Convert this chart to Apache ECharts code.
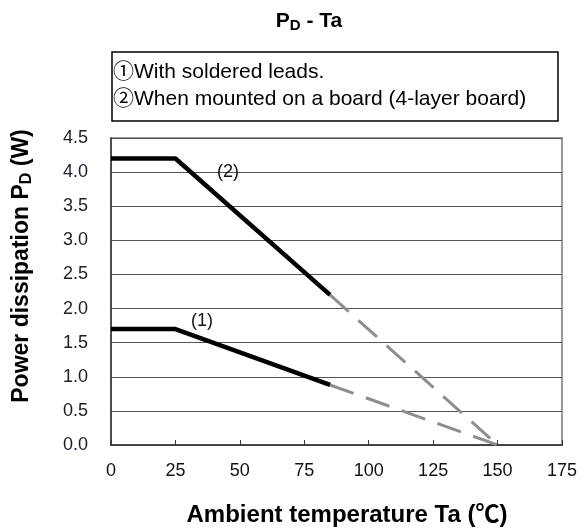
<!DOCTYPE html>
<html>
<head>
<meta charset="utf-8">
<script src="https://cdn.jsdelivr.net/npm/echarts@6/dist/echarts.min.js"></script>
<style>
html,body{margin:0;padding:0;background:#fff;}
#chart{width:580px;height:531px;}
</style>
</head>
<body>
<div id="chart"></div>
<script>
const tempSolid = [0, 25, 85];
const pdSolid1 = [1.7, 1.7, 0.88];
const pdSolid2 = [4.2, 4.2, 2.2];
const tempDash = [85, 150];
const pdDash1 = [0.88, 0];
const pdDash2 = [2.2, 0];
const curveNames = ['(1)', '(2)'];
const legendLines = ['①With soldered leads.', '②When mounted on a board (4-layer board)'];

const FONT = '"Liberation Sans", Arial, "Noto Sans CJK JP", sans-serif';
const zip = (xs, ys) => xs.map((x, i) => [x, ys[i]]);

const chart = echarts.init(document.getElementById('chart'), null, {renderer: 'canvas'});
const solidStyle = {color: '#000', width: 4.5, cap: 'butt'};
const dashStyle = {color: '#8e8e8e', width: 3, type: [25, 13]};
const labelStyle = {show: true, position: 'inside', color: '#111', fontSize: 18, fontFamily: FONT};
const curveLabel = (name, coord) => ({
  symbol: 'circle', symbolSize: 1, itemStyle: {color: 'rgba(0,0,0,0)'},
  label: Object.assign({formatter: name}, labelStyle),
  data: [{coord: coord, label: Object.assign({formatter: name}, labelStyle)}]
});

chart.setOption({
  animation: false,
  backgroundColor: '#fff',
  grid: {left: 111, right: 18, top: 138, bottom: 86, show: true, borderColor: '#999', borderWidth: 2},
  xAxis: {
    type: 'value', min: 0, max: 175, interval: 25,
    axisLine: {show: true, lineStyle: {color: '#333', width: 1.5}},
    axisTick: {show: true, inside: true, length: 5, lineStyle: {color: '#333'}},
    axisLabel: {color: '#111', fontSize: 18, fontFamily: FONT, margin: 17},
    splitLine: {show: false}
  },
  yAxis: {
    type: 'value', min: 0, max: 4.5, interval: 0.5,
    axisLine: {show: true, lineStyle: {color: '#333', width: 1.5}},
    axisTick: {show: false},
    axisLabel: {color: '#1c1c2c', fontSize: 18, fontFamily: FONT, margin: 23, formatter: v => v.toFixed(1)},
    splitLine: {show: true, lineStyle: {color: '#555', width: 1}}
  },
  series: [
    {type: 'line', data: zip(tempDash, pdDash1), symbol: 'none', lineStyle: dashStyle, z: 3},
    {type: 'line', data: zip(tempDash, pdDash2), symbol: 'none', lineStyle: dashStyle, z: 3},
    {type: 'line', data: zip(tempSolid, pdSolid1), symbol: 'none', lineStyle: solidStyle, z: 4,
      markPoint: curveLabel(curveNames[0], [35.3, 1.82])},
    {type: 'line', data: zip(tempSolid, pdSolid2), symbol: 'none', lineStyle: solidStyle, z: 4,
      markPoint: curveLabel(curveNames[1], [45.4, 4.0])}
  ],
  graphic: [
    {type: 'text', x: 309, y: 21, style: {
      text: '{a|P}{s|D}{a| - Ta}', align: 'center', verticalAlign: 'middle',
      rich: {a: {fontSize: 21, fontWeight: 'bold', fontFamily: FONT, fill: '#000', lineHeight: 28},
             s: {fontSize: 15, fontWeight: 'bold', fontFamily: FONT, fill: '#000', lineHeight: 28, padding: [9, 0, 0, 0]}}
    }},
    {type: 'rect', shape: {x: 112, y: 52, width: 446, height: 69}, style: {fill: '#fff', stroke: '#000', lineWidth: 1.5}},
    {type: 'text', x: 113, y: 72, style: {text: legendLines[0], fontSize: 21, fontFamily: FONT, fill: '#000', verticalAlign: 'middle'}},
    {type: 'text', x: 113, y: 99, style: {text: legendLines[1], fontSize: 21, fontFamily: FONT, fill: '#000', verticalAlign: 'middle'}},
    {type: 'text', x: 347, y: 515, style: {
      text: 'Ambient temperature Ta (℃)', fontSize: 24, fontWeight: 'bold', fontFamily: FONT, fill: '#000',
      align: 'center', verticalAlign: 'middle'}},
    {type: 'text', x: 22, y: 266, rotation: Math.PI / 2, style: {
      text: '{a|Power dissipation P}{s|D}{a| (W)}', align: 'center', verticalAlign: 'middle',
      rich: {a: {fontSize: 23, fontWeight: 'bold', fontFamily: FONT, fill: '#000', lineHeight: 30},
             s: {fontSize: 16, fontWeight: 'bold', fontFamily: FONT, fill: '#000', lineHeight: 30, padding: [10, 0, 0, 0]}}
    }}
  ]
});
</script>
</body>
</html>
